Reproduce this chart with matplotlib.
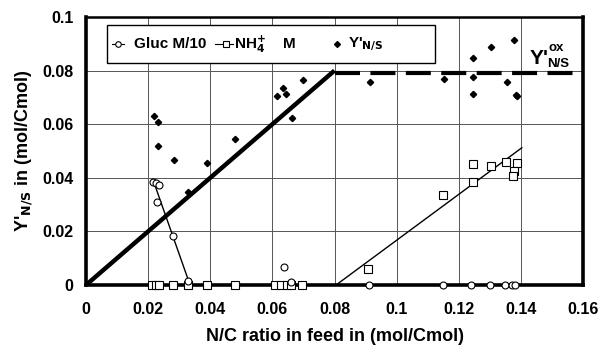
import matplotlib
matplotlib.use("Agg")
import matplotlib.pyplot as plt
from matplotlib.patches import Rectangle
from matplotlib.lines import Line2D

plt.rcParams['font.family'] = ['Liberation Sans', 'DejaVu Sans']
plt.rcParams['font.weight'] = 'bold'

# ---- data ----
gluc_x = [0.0215, 0.0224, 0.0235, 0.0229, 0.0281, 0.0327, 0.0639, 0.0659,
          0.091, 0.115, 0.124, 0.130, 0.135, 0.137, 0.138]
gluc_y = [0.0386, 0.0380, 0.0373, 0.0311, 0.0183, 0.0015, 0.0066, 0.0010,
          0, 0, 0, 0, 0, 0, 0]

nh4_x = [0.0214, 0.0224, 0.0236, 0.028, 0.0327, 0.0388, 0.048, 0.061, 0.0629,
         0.0647, 0.066, 0.0696, 0.0909, 0.115, 0.1245, 0.1245, 0.1303, 0.1352,
         0.1389, 0.1379, 0.1375]
nh4_y = [0, 0, 0, 0, 0, 0, 0, 0, 0, 0, 0, 0, 0.0058, 0.0336, 0.0385, 0.0451,
         0.0445, 0.0460, 0.0456, 0.0425, 0.0408]

yns_x = [0.0219, 0.0233, 0.0233, 0.0283, 0.0329, 0.0391, 0.048, 0.0615, 0.0635,
         0.0645, 0.0662, 0.070, 0.0915, 0.1153, 0.1247, 0.1247, 0.1247, 0.1305,
         0.1354, 0.1379, 0.1384, 0.1389]
yns_y = [0.063, 0.0608, 0.0519, 0.0466, 0.0348, 0.0454, 0.0544, 0.0705, 0.0734,
         0.0713, 0.0624, 0.0765, 0.0756, 0.077, 0.0846, 0.0777, 0.0712, 0.0889,
         0.0759, 0.0913, 0.0709, 0.0705]

max_line_x = [0.0, 0.08]
max_line_y = [0.0, 0.08]
ox_line_x = [0.08, 0.16]
ox_line_y = [0.079, 0.079]
gluc_fit_x = [0.0215, 0.0335]
gluc_fit_y = [0.0395, 0.0]
nh4_fit_x = [0.0805, 0.1403]
nh4_fit_y = [0.0, 0.0512]

xticks = [0, 0.02, 0.04, 0.06, 0.08, 0.1, 0.12, 0.14, 0.16]
xticklabels = ['0', '0.02', '0.04', '0.06', '0.08', '0.1', '0.12', '0.14', '0.16']
yticks = [0, 0.02, 0.04, 0.06, 0.08, 0.1]
yticklabels = ['0', '0.02', '0.04', '0.06', '0.08', '0.1']

# ---- figure ----
fig = plt.figure(figsize=(6.04, 3.48), dpi=100)
ax = fig.add_axes([86/604, 1-285/348, 497/604, 268/348])
ax.set_xlim(0, 0.16)
ax.set_ylim(0, 0.1)

# grid (stops at 0.14)
for gx in xticks[1:-1]:
    ax.plot([gx, gx], [0, 0.1], color='#555555', lw=0.7, zorder=1)
for gy in yticks[1:-1]:
    ax.plot([0, 0.16], [gy, gy], color='#555555', lw=0.7, zorder=1)

ax.plot(max_line_x, max_line_y, color='black', lw=3.2, solid_capstyle='butt', zorder=3)
ax.plot(ox_line_x, ox_line_y, color='black', lw=3.0, dashes=(6, 2.5), zorder=3)
ax.plot(gluc_fit_x, gluc_fit_y, color='black', lw=1.0, zorder=3)
ax.plot(nh4_fit_x, nh4_fit_y, color='black', lw=1.0, zorder=3)

ax.plot(gluc_x, gluc_y, ls='none', marker='o', ms=5, mfc='white', mec='black',
        mew=0.8, clip_on=False, zorder=6)
ax.plot(nh4_x, nh4_y, ls='none', marker='s', ms=5.5, mfc='white', mec='black',
        mew=0.8, clip_on=False, zorder=5)
ax.plot(yns_x, yns_y, ls='none', marker='D', ms=3.2, mfc='black', mec='black',
        clip_on=False, zorder=6)

ax.set_xticks(xticks)
ax.set_xticklabels(xticklabels)
ax.set_yticks(yticks)
ax.set_yticklabels(yticklabels)
ax.tick_params(length=0, labelsize=11.5)
ax.tick_params(axis='x', pad=12)
ax.tick_params(axis='y', pad=9)
for s in ['left', 'bottom', 'right']:
    ax.spines[s].set_linewidth(2.6)
ax.spines['top'].set_linewidth(1.8)
for sp in ax.spines.values():
    sp.set_zorder(4)

ax.set_xlabel('N/C ratio in feed in (mol/Cmol)', fontsize=13, fontweight='bold', labelpad=8)
ax.set_ylabel(r"Y'$_{\mathbf{N/S}}$ in (mol/Cmol)", fontsize=13, fontweight='bold', labelpad=5)

# ---- legend (manual) ----
def fx(px):
    return (px - 86) / 497
def fy(py):
    return (285 - py) / 268

ax.add_patch(Rectangle((fx(107), fy(63)), fx(435) - fx(107), fy(25) - fy(63),
                       transform=ax.transAxes, facecolor='white', edgecolor='black',
                       lw=1.0, zorder=7))
ly = fy(44)
ax.add_line(Line2D([fx(112), fx(124)], [ly, ly], transform=ax.transAxes, color='black',
                   lw=0.8, zorder=8))
ax.plot([fx(118)], [ly], transform=ax.transAxes, marker='o', ms=4, mfc='white',
        mec='black', mew=0.8, zorder=9, clip_on=False)
ax.text(fx(134), ly, 'Gluc M/10', transform=ax.transAxes, fontsize=11, fontweight='bold',
        va='center', ha='left', zorder=9)
ax.add_line(Line2D([fx(215), fx(233)], [ly, ly], transform=ax.transAxes, color='black',
                   lw=0.8, zorder=8))
ax.plot([fx(226)], [ly], transform=ax.transAxes, marker='s', ms=4.5, mfc='white',
        mec='black', mew=0.8, zorder=9, clip_on=False)
ax.text(fx(234), ly, r'NH$_{\mathbf{4}}^{\mathbf{+}}$', transform=ax.transAxes, fontsize=11,
        fontweight='bold', va='center', ha='left', zorder=9)
ax.text(fx(283), ly, 'M', transform=ax.transAxes, fontsize=11, fontweight='bold',
        va='center', ha='left', zorder=9)
ax.plot([fx(337)], [ly], transform=ax.transAxes, marker='D', ms=3, mfc='black',
        mec='black', zorder=9, clip_on=False)
ax.text(fx(348), ly, r"Y'$_{\mathbf{N/S}}$", transform=ax.transAxes, fontsize=11,
        fontweight='bold', va='center', ha='left', zorder=9)

# ---- Y'ox label ----
ax.text(fx(530), fy(64), "Y'", transform=ax.transAxes, fontsize=15, fontweight='bold',
        va='baseline', ha='left', zorder=9)
ax.text(fx(548), fy(51), 'ox', transform=ax.transAxes, fontsize=9.5, fontweight='bold',
        va='baseline', ha='left', zorder=9)
ax.text(fx(547), fy(67), 'N/S', transform=ax.transAxes, fontsize=9.5, fontweight='bold',
        va='baseline', ha='left', zorder=9)

fig.savefig('out.png', dpi=100)
